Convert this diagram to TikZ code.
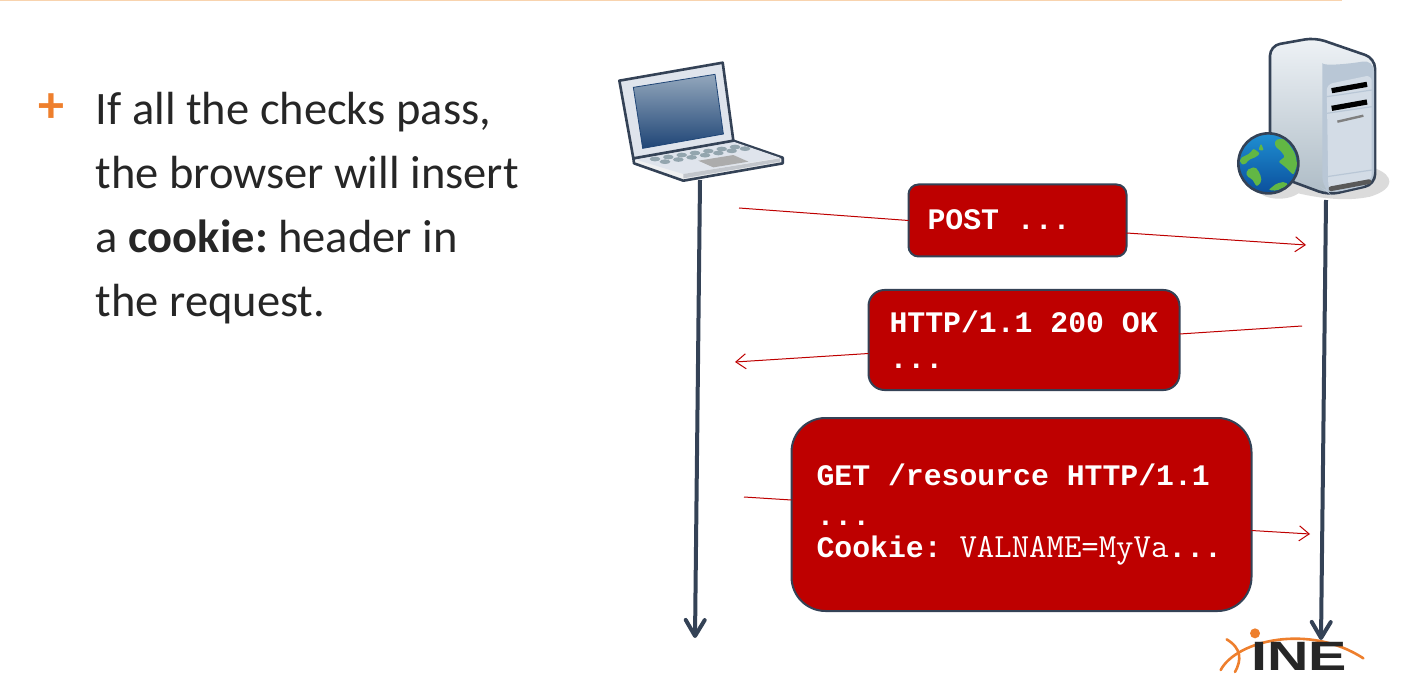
\documentclass[tikz,border=0pt]{standalone}
\usepackage{fontspec}
\setmainfont{Carlito}
\newfontfamily\msgfont{Liberation Mono}
\newfontfamily\logofont{Liberation Sans}
\usetikzlibrary{arrows.meta}
\definecolor{msgred}{HTML}{BE0000}
\definecolor{slate}{HTML}{344256}
\definecolor{inkdark}{HTML}{262626}
\definecolor{plusorange}{HTML}{EE7F2D}
\definecolor{topline}{HTML}{F8D3AE}
\definecolor{globetop}{HTML}{1F8FD2}
\definecolor{globebottom}{HTML}{0B4F9C}
\definecolor{globegreen}{HTML}{62B744}
\definecolor{screentop}{HTML}{93A7BC}
\definecolor{screenbottom}{HTML}{1F4576}
\definecolor{lidframe}{HTML}{DFE4EC}
\definecolor{keycap}{HTML}{93A5AE}
\definecolor{bodytop}{HTML}{EEF2F6}
\definecolor{bodybottom}{HTML}{AEBCC6}
\definecolor{panelback}{HTML}{B9C7D6}
\definecolor{panelfront}{HTML}{D3DCE6}
\tikzset{
    msgbox/.style={draw=slate,fill=msgred,line width=1pt,text=white,align=flush left,outer sep=0pt,font=\frenchspacing\msgfont\bfseries\fontsize{14.9}{16}\selectfont},
    msgline/.style={msgred,line width=.5pt},
    msgarrow/.style={msgline,-{Straight Barb[length=5pt,width=7.5pt]}},
    lifeline/.style={slate,line width=2pt,-{Straight Barb[length=8pt,width=9.5pt,round]}},
    bodytext/.style={text=inkdark,align=left,inner sep=0pt,font=\frenchspacing\fontsize{23.25}{32}\selectfont},
    outline/.style={draw=slate,line width=1.3pt,line join=round},
    globeland/.style={fill=globegreen,rounded corners=1pt}
}
\begin{document}
\begin{tikzpicture}[x=.5pt,y=-.5pt]
    \useasboundingbox (0,0) rectangle (1408,695);
    \draw[topline,line width=.6pt] (0,0.5) -- (1342,0.5);

    \node[text=plusorange,inner sep=0pt,font=\bfseries\fontsize{26}{26}\selectfont] (plus) at (51,108) {+};
    \node[bodytext,anchor=north west] (bullet) at (95.5,92) {If all the checks pass,\\the browser will insert\\a \textbf{cookie:} header in\\the request.};

    % laptop
    \begin{scope}[shift={(600,30)},x=.1667pt,y=-.1667pt]
        \fill[outline,fill=white!92!slate] (100,385) -- (400,332) -- (548,383) -- (548,400) -- (250,452) -- (102,400) -- cycle;
        \fill[lidframe] (105,388) -- (400,335) -- (540,383) -- (250,432) -- cycle;
        \fill[white!70!slate] (250,432) -- (540,385) -- (540,395) -- (250,445) -- cycle;
        \foreach \i in {0,...,6} {
            \fill[keycap] (165+40*\i,387-6*\i) ellipse (16 and 7);
        }
        \foreach \i in {0,...,6} {
            \fill[keycap] (195+40*\i,395-6.5*\i) ellipse (16 and 7);
        }
        \fill[gray!65] (295,392) -- (400,375) -- (445,395) -- (340,412) -- cycle;
        \fill[outline,fill=lidframe] (58,152) -- (368,98) -- (400,332) -- (100,385) -- cycle;
        \shade[top color=screentop,bottom color=screenbottom,draw=screenbottom,line width=.4pt] (100,172) -- (345,133) -- (370,312) -- (128,355) -- cycle;
    \end{scope}

    % server
    \begin{scope}[shift={(1220,25)},x=.1667pt,y=-.1667pt]
        \fill[gray!28] (110,495) -- (150,430) -- (465,430) .. controls (520,450) and (530,490) .. (450,515) .. controls (380,530) and (300,520) .. (235,505) .. controls (200,530) and (130,525) .. (110,495) -- cycle;
        \shade[outline,rounded corners=5pt,top color=bodytop,bottom color=bodybottom] (150,62) -- (285,38) -- (465,100) -- (465,478) -- (325,510) -- (150,445) -- cycle;
        \fill[panelback,rounded corners=6pt] (307,150) .. controls (307,125) and (400,115) .. (462,103) -- (462,476) -- (328,506) -- (307,490) -- cycle;
        \fill[panelfront,rounded corners=3pt] (320,178) -- (455,150) -- (455,465) -- (325,495) -- cycle;
        \draw[panelback,line width=.6pt] (320,215) -- (455,195);
        \draw[panelback,line width=.6pt] (320,265) -- (455,245);
        \draw[panelback,line width=.6pt] (320,455) -- (455,435);
        \draw[black,line width=2.6pt] (335,197) -- (441,178);
        \draw[black,line width=2.6pt] (335,250) -- (441,231);
        \draw[gray,line width=1.2pt] (352,290) -- (430,272);
        \draw[black!65,line width=2.4pt,line cap=round] (333,491) -- (447,470);
        \shade[top color=globetop,bottom color=globebottom] (145,415) circle (90);
        \fill[globeland] (165,345) -- (190,340) -- (205,355) -- (225,385) -- (232,420) -- (220,450) -- (195,425) -- (175,410) -- (195,395) -- (180,375) -- (165,365) -- cycle;
        \fill[globeland] (60,400) -- (90,385) -- (100,370) -- (120,385) -- (110,395) -- (85,405) -- (75,420) -- (60,415) -- cycle;
        \fill[globeland] (123,355) -- (132,377) -- (115,375) -- cycle;
        \fill[globeland] (80,435) -- (105,425) -- (120,445) -- (125,470) -- (110,485) -- (95,460) -- (80,455) -- cycle;
        \fill[globeland] (145,495) -- (170,475) -- (195,470) -- (205,480) -- (170,497) -- cycle;
        \draw[slate,line width=1.3pt] (145,415) circle (90);
    \end{scope}

    % logo
    \begin{scope}[shift={(1200,610)},x=.1667pt,y=-.1667pt]
        \fill[plusorange] (165,70) circle (15);
        \draw[plusorange,line width=1.3pt,line cap=round] (62,180) .. controls (110,90) and (330,40) .. (490,145);
        \draw[plusorange,line width=1.3pt,line cap=round] (80,88) .. controls (125,115) and (125,150) .. (105,186);
        \node[text=inkdark,inner sep=0pt,xscale=1.4,font=\logofont\bfseries\fontsize{20.5}{20.5}\selectfont] (logo) at (297,139) {INE};
    \end{scope}

    \coordinate (laptop) at (700,180);
    \coordinate (laptopend) at (695,638);
    \coordinate (server) at (1326,200);
    \coordinate (serverend) at (1321,640);
    \draw[lifeline] (laptop) -- (laptopend);
    \draw[lifeline] (server) -- (serverend);

    \node[msgbox,rounded corners=5pt,minimum width=109pt,minimum height=36pt,inner xsep=9.5pt,text width=90pt,text depth=1pt] (post) at (1017.5,220.5) {POST ...};
    \node[msgbox,rounded corners=8pt,minimum width=155.5pt,minimum height=50pt,inner xsep=10.5pt,text width=134.5pt] (ok) at (1024,340) {HTTP/1.1 200 OK\\[2pt]...};
    \node[msgbox,rounded corners=17pt,minimum width=230pt,minimum height=96.5pt,inner xsep=12.5pt,text width=205pt] (get) at (1021.5,514.5) {GET /resource HTTP/1.1\\[4pt]...\\Cookie: {\mdseries\ttfamily\fontsize{16.9}{16}\selectfont VALNAME=MyVa}...};

    \coordinate (postfrom) at (739,208);
    \coordinate (postto) at (1306,245);
    \coordinate (okfrom) at (1302,326);
    \coordinate (okto) at (735,362);
    \coordinate (getfrom) at (744,497);
    \coordinate (getto) at (1310,534);
    \draw[msgline] (postfrom) -- (post.west);
    \draw[msgarrow] ([yshift=-6.25pt]post.east) -- (postto);
    \draw[msgline] (okfrom) -- ([yshift=3pt]ok.east);
    \draw[msgarrow] ([yshift=-6.75pt]ok.west) -- (okto);
    \draw[msgline] (getfrom) -- ([yshift=7.25pt]get.west);
    \draw[msgarrow] ([yshift=-8pt]get.east) -- (getto);
\end{tikzpicture}
\end{document}
